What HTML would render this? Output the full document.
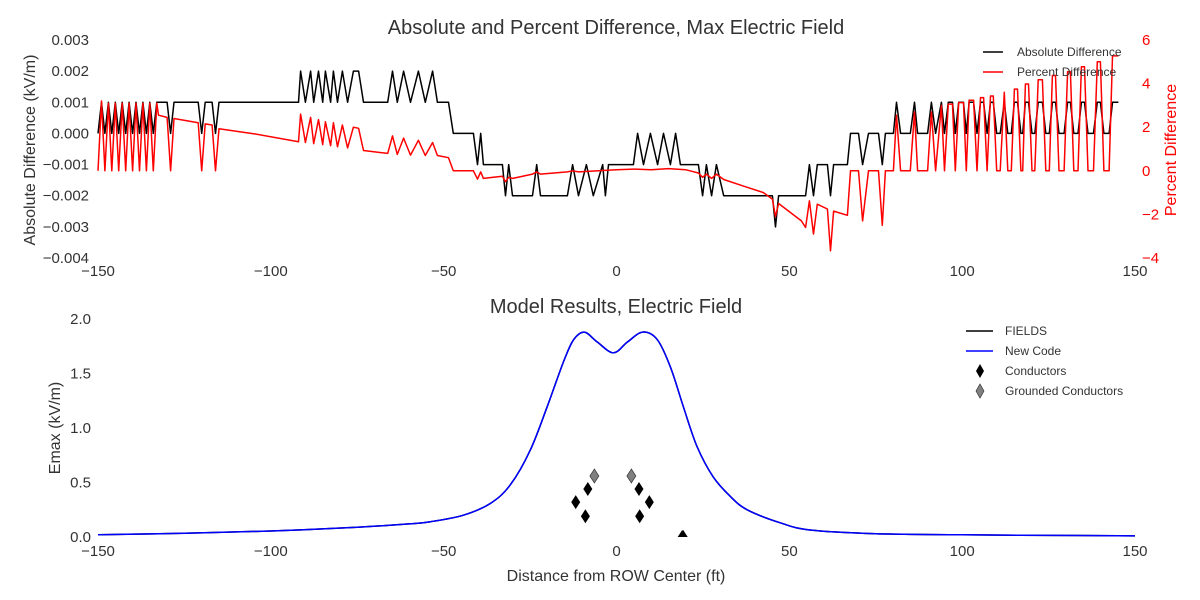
<!DOCTYPE html>
<html><head><meta charset="utf-8"><style>
html,body{margin:0;padding:0;background:#fff;}
svg{display:block;font-family:"Liberation Sans",sans-serif;}
</style></head><body>
<svg id="chart" width="1200" height="600" viewBox="0 0 1200 600" xmlns="http://www.w3.org/2000/svg">
<text x="616" y="34" font-size="20" text-anchor="middle" fill="#333">Absolute and Percent Difference, Max Electric Field</text>
<text x="616" y="313" font-size="20" text-anchor="middle" fill="#333">Model Results, Electric Field</text>
<text transform="translate(35,150) rotate(-90)" font-size="16" text-anchor="middle" fill="#333">Absolute Difference (kV/m)</text>
<text transform="translate(1176,150) rotate(-90)" font-size="16" text-anchor="middle" fill="#f00">Percent Difference</text>
<text transform="translate(60,428) rotate(-90)" font-size="16" text-anchor="middle" fill="#333">Emax (kV/m)</text>
<text x="616" y="581" font-size="16" text-anchor="middle" fill="#333">Distance from ROW Center (ft)</text>
<g id="topG"></g>
<g id="botG"></g>
<g font-size="12" fill="#333">
<line x1="983" y1="52" x2="1003" y2="52" stroke="#000" stroke-width="1.5"/>
<text x="1017" y="56">Absolute Difference</text>
<line x1="983" y1="72" x2="1003" y2="72" stroke="#f00" stroke-width="1.5"/>
<text x="1017" y="76">Percent Difference</text>
</g>
<g font-size="12" fill="#333">
<line x1="966" y1="331" x2="993" y2="331" stroke="#000" stroke-width="1.5"/>
<text x="1005" y="335">FIELDS</text>
<line x1="966" y1="351" x2="993" y2="351" stroke="#00f" stroke-width="1.5"/>
<text x="1005" y="355">New Code</text>
<path d="M980,364 L984,371 L980,378 L976,371 Z" fill="#000"/>
<text x="1005" y="375">Conductors</text>
<path d="M980,384 L984,391 L980,398 L976,391 Z" fill="#808080" stroke="#333" stroke-width="0.7"/>
<text x="1005" y="395">Grounded Conductors</text>
</g>
</svg>
<script>
const xTicks=[-150,-100,-50,0,50,100,150];
const absTicks=[0.003,0.002,0.001,0,-0.001,-0.002,-0.003,-0.004];
const pctTicks=[6,4,2,0,-2,-4];
const emaxTicks=[0,0.5,1,1.5,2];

const absX=[-150,-149,-148,-147,-146,-145,-144,-143,-142,-141,-140,-139,-138,-137,-136,-135,-134,-133,-130,-129,-128,-121,-120,-119,-117,-116,-115,-92,-91.4,-90,-88.5,-87.6,-86.2,-85,-84.2,-82.7,-81.9,-80.7,-79.3,-77.8,-76.1,-74.6,-73.2,-66.2,-64.8,-63.4,-61.6,-59.6,-57.3,-55.3,-53.2,-51.8,-48.6,-47.2,-41.4,-40.2,-39.3,-38.5,-33,-32.1,-31.2,-30.1,-24.3,-23.1,-22,-14.2,-12.7,-11,-8.7,-6.7,-4,-3.2,-2.3,4.9,6.1,7.8,9.8,11.9,13.6,15.6,17.1,18.5,23.7,24.9,26,27.5,28.9,31,45.1,46,46.9,54.7,55.8,57,58.1,61,61.9,62.8,66.8,67.7,70,71.2,72.9,75.8,76.9,77.8,80.1,81,82.2,85,86.2,87.1,90,91.1,92.3,94,94.9,96,97.2,98,99,100.4,101.2,102,103.3,104.3,105.3,106.2,107.2,108.2,109,110,111,112.2,113.2,114.2,115.1,116,117,117.5,118.3,119.2,120.2,121,122,123.2,124.2,125.2,126.1,127,128,129.5,130.5,131.3,132.3,133.5,134.5,135.4,136.4,138,139.1,140,141,142.5,143.5,145.2,146.2,147.2,148.1,150];
const absY=[0,0.001,0,0.001,0,0.001,0,0.001,0,0.001,0,0.001,0,0.001,0,0.001,0,0.001,0.001,0,0.001,0.001,0,0.001,0.001,0,0.001,0.001,0.002,0.001,0.002,0.001,0.002,0.001,0.002,0.001,0.002,0.001,0.002,0.001,0.002,0.002,0.001,0.001,0.002,0.001,0.002,0.001,0.002,0.001,0.002,0.001,0.001,0,0,-0.001,0,-0.001,-0.001,-0.002,-0.001,-0.002,-0.002,-0.001,-0.002,-0.002,-0.001,-0.002,-0.001,-0.002,-0.001,-0.002,-0.001,-0.001,0,-0.001,0,-0.001,0,-0.001,0,-0.001,-0.001,-0.002,-0.001,-0.002,-0.001,-0.002,-0.002,-0.003,-0.002,-0.002,-0.001,-0.002,-0.001,-0.001,-0.002,-0.001,-0.001,0,0,-0.001,0,0,-0.001,0,0,0.001,0,0,0.001,0,0,0.001,0,0.001,0,0.001,0.001,0,0.001,0.001,0,0.001,0.001,0,0.001,0.001,0,0.001,0.001,0,0,0.001,0,0,0.001,0.001,0,0,0.001,0.001,0,0,0.001,0.001,0,0,0.001,0.001,0,0,0.001,0.001,0,0,0.001,0.001,0,0,0.001,0.001,0,0,0.001,0.001];
const pctX=[-150,-149,-148,-147,-146,-145,-144,-143,-142,-141,-140,-139,-138,-137,-136,-135,-134,-133,-132.5,-130,-129,-128,-121,-120,-119,-117,-116,-115,-105,-92,-91.4,-90,-88.5,-87.6,-86.2,-85,-84.2,-82.7,-81.9,-80.7,-79.3,-77.8,-76.1,-74.6,-73.2,-66.2,-64.8,-63.4,-61.6,-59.6,-57.3,-55.3,-53.2,-51.8,-48.6,-47.2,-41.4,-40.2,-39.3,-38.5,-33,-32.1,-31.2,-30,-24.3,-23.1,-22,-14.2,-12.7,-11,0,5,10,15,20,23.7,24.9,26,27.5,28.9,31,36.7,42.5,45.1,46,46.9,53.5,54.7,55.8,57,58.1,61,61.9,62.8,66.8,67.7,70,71.2,72.9,75.8,76.9,77.8,80.1,81,82.2,85,86.2,87.1,90,91.1,92.3,94,94.9,96,97.2,98,99,100.4,101.2,102,103.3,104.3,105.3,106.2,107.2,108.2,109,110,111,112.2,113.2,114.2,115.1,116,117,117.5,118.3,119.2,120.2,121,122,123.2,124.2,125.2,126.1,127,128,129.5,130.5,131.3,132.3,133.5,134.5,135.4,136.4,138,139.1,140,141,142.5,143.5,145.2,146.2,147.2,148.1,150];
const pctY=[0,3.2,0,3.1,0,3.1,0,3.1,0,3.1,0,3.1,0,3.1,0,3.1,0,3.1,2.55,2.45,0,2.4,2.2,0,2.15,2.1,0,1.93,1.7,1.33,2.6,1.3,2.45,1.25,2.35,1.2,2.25,1.15,2.2,1.1,2.1,1.05,2.0,1.95,0.93,0.8,1.6,0.75,1.5,0.72,1.4,0.7,1.3,0.7,0.6,0,0,-0.38,-0.05,-0.35,-0.25,-0.5,-0.3,-0.35,-0.15,-0.05,-0.15,-0.05,0,-0.05,0.05,0.08,0.05,0.1,0.05,-0.1,-0.3,-0.15,-0.35,-0.15,-0.4,-0.7,-1.0,-1.3,-2.1,-1.5,-2.3,-2.6,-1.38,-2.9,-1.53,-1.75,-3.67,-1.85,-2.04,0,0,-2.3,0,0,-2.5,0,0,2.55,0,0,2.7,0,0,2.7,0,3.0,0,3.06,3.06,0,3.13,3.13,0,3.24,3.24,0,3.36,3.36,0,3.43,3.43,0,0,3.6,0,0,3.75,3.75,0,0,3.98,3.98,0,0,4.18,4.18,0,0,4.37,4.37,0,0,4.55,4.55,0,0,4.77,4.77,0,0,5.0,5.0,0,0,5.27,5.27];
const emaxX=[-150,-125,-100,-75,-60,-53.8,-44.3,-36.4,-30.7,-24.9,-20,-15.3,-12.4,-9.3,-5.6,-0.9,3.2,7.6,11.8,15.6,19.3,23.3,28,33,37.8,47.4,56,75,100,125,150];
const fieldsY=[0.02,0.035,0.055,0.09,0.12,0.14,0.2,0.31,0.48,0.8,1.2,1.61,1.81,1.88,1.79,1.69,1.79,1.88,1.81,1.56,1.2,0.83,0.55,0.37,0.25,0.13,0.064,0.03,0.02,0.015,0.01];
const newCodeY=[0.02,0.035,0.055,0.09,0.12,0.14,0.2,0.31,0.48,0.8,1.2,1.61,1.81,1.88,1.79,1.69,1.79,1.88,1.81,1.56,1.2,0.83,0.55,0.37,0.25,0.13,0.064,0.03,0.02,0.015,0.01];
const condX=[-8.3,-11.8,-9,6.5,9.5,6.7,19,19.3];
const condY=[0.44,0.32,0.19,0.44,0.32,0.19,0,0];
const gndX=[-6.4,4.3];
const gndY=[0.56,0.56];

const NS="http://www.w3.org/2000/svg";
const X0=98,X1=1135;
const sx=v=>X0+(v+150)/300*(X1-X0);
const syAbs=v=>40+(0.003-v)/0.007*218;
const syPct=v=>40+(6-v)/10*218;
const syE=v=>537-v/2*218;
function mk(tag,attrs,parent,text){const e=document.createElementNS(NS,tag);for(const k in attrs)e.setAttribute(k,attrs[k]);if(text!==undefined)e.textContent=text;parent.appendChild(e);return e;}
const topG=document.getElementById('topG'),botG=document.getElementById('botG');
const fmt=v=>(v<0?'\u2212':'')+Math.abs(v);
const fmt3=v=>(v<0?'\u2212':'')+Math.abs(v).toFixed(3);
const fmt1=v=>v.toFixed(1);
xTicks.forEach(t=>{
  const a=mk('text',{x:sx(t),y:276,'font-size':15,'text-anchor':'middle',fill:'#333'},topG,fmt(t));
  
  
  const b=mk('text',{x:sx(t),y:556,'font-size':15,'text-anchor':'middle',fill:'#333'},botG,fmt(t));
  
  
});
absTicks.forEach(t=>{
  const a=mk('text',{x:89,y:syAbs(t)+5,'font-size':15,'text-anchor':'end',fill:'#333'},topG,fmt3(t));
  
  
});
pctTicks.forEach(t=>{
  const a=mk('text',{x:1142,y:syPct(t)+5,'font-size':15,'text-anchor':'start',fill:'#f00'},topG,fmt(t));
  
  
});
emaxTicks.forEach(t=>{
  const a=mk('text',{x:91,y:syE(t)+5,'font-size':15,'text-anchor':'end',fill:'#333'},botG,fmt1(t));
  
  
});
function line(xs,ys,fy,color,parent,name){
  const d=xs.map((x,i)=>(i?'L':'M')+sx(x).toFixed(1)+','+fy(ys[i]).toFixed(1)).join('');
  const p=mk('path',{d:d,fill:'none',stroke:color,'stroke-width':1.5,'stroke-linejoin':'round'},parent);
  
  
}
function smooth(xs,ys,fy,color,parent,name){
  const P=xs.map((x,i)=>[sx(x),fy(ys[i])]);
  let d='M'+P[0][0].toFixed(1)+','+P[0][1].toFixed(1);
  for(let i=0;i<P.length-1;i++){
    const p0=P[Math.max(0,i-1)],p1=P[i],p2=P[i+1],p3=P[Math.min(P.length-1,i+2)];
    const c1=[p1[0]+(p2[0]-p0[0])/6,p1[1]+(p2[1]-p0[1])/6];
    const c2=[p2[0]-(p3[0]-p1[0])/6,p2[1]-(p3[1]-p1[1])/6];
    d+=`C${c1[0].toFixed(1)},${c1[1].toFixed(1)} ${c2[0].toFixed(1)},${c2[1].toFixed(1)} ${p2[0].toFixed(1)},${p2[1].toFixed(1)}`;
  }
  const p=mk('path',{d:d,fill:'none',stroke:color,'stroke-width':1.5},parent);
  
  
}
line(absX,absY,syAbs,'#000',topG,'absolute-difference-line');
line(pctX,pctY,syPct,'#f00',topG,'percent-difference-line');
const cp=mk('clipPath',{id:'bclip'},botG);
mk('rect',{x:X0,y:300,width:X1-X0,height:237},cp);
const bg=mk('g',{'clip-path':'url(#bclip)'},botG);
smooth(emaxX,fieldsY,syE,'#000',bg,'fields-line');
smooth(emaxX,newCodeY,syE,'#00f',bg,'new-code-line');
condX.forEach((x,i)=>{
  const cx=sx(x),cy=syE(condY[i]);
  const p=mk('path',{d:`M${cx},${cy-7}L${cx+4.5},${cy}L${cx},${cy+7}L${cx-4.5},${cy}Z`,fill:'#000'},bg);
  
  
});
gndX.forEach((x,i)=>{
  const cx=sx(x),cy=syE(gndY[i]);
  const p=mk('path',{d:`M${cx},${cy-7}L${cx+4.5},${cy}L${cx},${cy+7}L${cx-4.5},${cy}Z`,fill:'#808080',stroke:'#333','stroke-width':0.7},bg);
  
  
});
</script>
</body></html>
